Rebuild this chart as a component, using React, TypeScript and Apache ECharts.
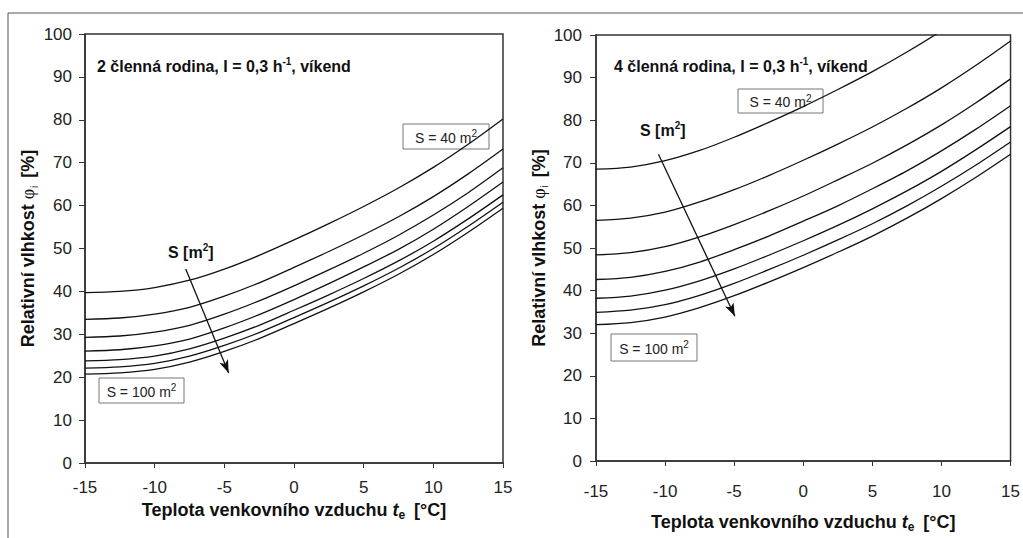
import React, { useEffect, useRef } from "react";
import * as echarts from "echarts";

// Outdoor air temperature t_e [°C]
const TE = [-15, -12.5, -10, -7.5, -5, -2.5, 0, 2.5, 5, 7.5, 10, 12.5, 15];
const X_TICKS = [-15, -10, -5, 0, 5, 10, 15];
const Y_TICKS = [0, 10, 20, 30, 40, 50, 60, 70, 80, 90, 100];

// Left chart: 2-member family (S = 40 ... 100 m2)
const L_S40 = [39.7, 40.0, 40.9, 42.6, 45.2, 48.4, 52.0, 55.8, 59.8, 64.1, 68.9, 74.3, 80.2];
const L_S50 = [33.5, 33.8, 34.7, 36.3, 38.9, 42.0, 45.6, 49.3, 53.2, 57.4, 62.1, 67.4, 73.2];
const L_S60 = [29.3, 29.6, 30.5, 32.1, 34.7, 37.8, 41.3, 45.0, 48.9, 53.1, 57.8, 63.0, 68.8];
const L_S70 = [26.1, 26.4, 27.3, 28.9, 31.5, 34.6, 38.1, 41.8, 45.7, 49.8, 54.5, 59.8, 65.5];
const L_S80 = [23.8, 24.1, 24.9, 26.6, 29.1, 32.1, 35.6, 39.2, 43.0, 47.1, 51.7, 56.9, 62.5];
const L_S90 = [22.1, 22.4, 23.2, 24.9, 27.4, 30.4, 33.9, 37.5, 41.3, 45.4, 50.0, 55.2, 60.8];
const L_S100 = [20.7, 21.0, 21.8, 23.5, 26.0, 29.0, 32.5, 36.1, 39.9, 44.0, 48.6, 53.8, 59.4];

// Right chart: 4-member family
const R_S40 = [68.5, 69.0, 70.5, 72.9, 76.0, 79.5, 83.2, 87.2, 91.4, 96.0, 101.0, 106.6, 112.5];
const R_S50 = [56.5, 57.0, 58.4, 60.8, 63.7, 67.0, 70.6, 74.4, 78.4, 82.8, 87.6, 92.9, 98.6];
const R_S60 = [48.4, 48.9, 50.3, 52.6, 55.5, 58.7, 62.2, 66.0, 69.9, 74.2, 78.9, 84.1, 89.7];
const R_S70 = [42.6, 43.1, 44.5, 46.7, 49.6, 52.8, 56.3, 59.9, 63.9, 68.1, 72.8, 77.9, 83.4];
const R_S80 = [38.2, 38.7, 40.1, 42.3, 45.1, 48.3, 51.7, 55.3, 59.2, 63.4, 68.0, 73.1, 78.5];
const R_S90 = [34.9, 35.4, 36.7, 38.9, 41.7, 44.9, 48.3, 51.9, 55.7, 59.9, 64.5, 69.5, 74.9];
const R_S100 = [32.0, 32.5, 33.8, 36.0, 38.8, 42.0, 45.4, 49.0, 52.8, 57.0, 61.6, 66.6, 72.0];

const LEFT_SERIES = [L_S40, L_S50, L_S60, L_S70, L_S80, L_S90, L_S100];
const RIGHT_SERIES = [R_S40, R_S50, R_S60, R_S70, R_S80, R_S90, R_S100];

// Arrows (data coordinates)
const L_ARROW = [[-7.77, 45.2], [-4.69, 21.0]];
const R_ARROW = [[-10.48, 72.0], [-4.95, 34.0]];

const FONT = "'Liberation Sans', Arial, sans-serif";
const AXIS_COLOR = "#333";

function makeAxes(idx: number, labelMarginX: number, nameGapX: number, nameGapY: number, labelMarginY: number) {
  const xAxis = {
    type: "value",
    gridIndex: idx,
    min: X_TICKS[0],
    max: X_TICKS[X_TICKS.length - 1],
    interval: X_TICKS[1] - X_TICKS[0],
    name: "{b|Teplota venkovního vzduchu }{it|t}{sub|e}{b| [°C]}",
    nameLocation: "middle",
    nameGap: nameGapX,
    nameTextStyle: {
      rich: {
        b: { fontFamily: FONT, fontWeight: "bold", fontSize: 18, color: "#111", lineHeight: 22 },
        it: { fontFamily: FONT, fontWeight: "bold", fontStyle: "italic", fontSize: 18, color: "#111", lineHeight: 22 },
        sub: { fontFamily: FONT, fontWeight: "bold", fontSize: 12, color: "#111", lineHeight: 14, verticalAlign: "bottom", padding: [0, 4, 0, 0] },
      },
    },
    axisLine: { show: true, onZero: false, lineStyle: { color: AXIS_COLOR, width: 1.5 } },
    axisTick: { show: true, inside: false, length: 5, lineStyle: { color: AXIS_COLOR, width: 1 } },
    axisLabel: { fontFamily: FONT, fontSize: 17, color: "#222", margin: labelMarginX },
    splitLine: { show: false },
  };
  const yAxis = {
    type: "value",
    gridIndex: idx,
    min: Y_TICKS[0],
    max: Y_TICKS[Y_TICKS.length - 1],
    interval: Y_TICKS[1] - Y_TICKS[0],
    name: "{b|Relativní vlhkost }{phi|φ}{sub|i}{b| [%]}",
    nameLocation: "middle",
    nameGap: nameGapY,
    nameTextStyle: {
      rich: {
        b: { fontFamily: FONT, fontWeight: "bold", fontSize: 18, color: "#111", lineHeight: 22 },
        phi: { fontFamily: "'Liberation Serif', serif", fontSize: 18, color: "#111", lineHeight: 22 },
        sub: { fontFamily: FONT, fontSize: 10, color: "#111", lineHeight: 12, verticalAlign: "bottom", padding: [0, 3, 0, 1] },
      },
    },
    axisLine: { show: true, onZero: false, lineStyle: { color: AXIS_COLOR, width: 1.5 } },
    axisTick: { show: true, inside: false, length: 6, lineStyle: { color: AXIS_COLOR, width: 1 } },
    axisLabel: { fontFamily: FONT, fontSize: 17, color: "#222", margin: labelMarginY },
    splitLine: { show: false },
  };
  return { xAxis, yAxis };
}

function boxLabel(x: number, y: number, w: number, h: number, value: string) {
  return {
    type: "group",
    x,
    y,
    children: [
      { type: "rect", shape: { x: 0, y: 0, width: w, height: h }, style: { fill: "#fff", stroke: "#777", lineWidth: 1 } },
      {
        type: "text",
        x: w / 2,
        y: h / 2 + 1,
        style: {
          text: `{t|S = ${value} m}{sup|2}`,
          align: "center",
          verticalAlign: "middle",
          rich: {
            t: { fontFamily: FONT, fontSize: 14, fill: "#222", lineHeight: 18 },
            sup: { fontFamily: FONT, fontSize: 10, fill: "#222", lineHeight: 11, verticalAlign: "top" },
          },
        },
      },
    ],
  };
}

function titleText(x: number, y: number, n: string) {
  return {
    type: "text",
    x,
    y,
    style: {
      text: `{b|${n} členná rodina, I = 0,3 h}{sup|-1}{b|, víkend}`,
      align: "left",
      verticalAlign: "middle",
      rich: {
        b: { fontFamily: FONT, fontWeight: "bold", fontSize: 16, fill: "#111", lineHeight: 20 },
        sup: { fontFamily: FONT, fontWeight: "bold", fontSize: 10, fill: "#111", lineHeight: 12, verticalAlign: "top" },
      },
    },
  };
}

function sLabel(x: number, y: number) {
  return {
    type: "text",
    x,
    y,
    style: {
      text: "{b|S [m}{sup|2}{b|]}",
      align: "left",
      verticalAlign: "middle",
      rich: {
        b: { fontFamily: FONT, fontWeight: "bold", fontSize: 16, fill: "#111", lineHeight: 20 },
        sup: { fontFamily: FONT, fontWeight: "bold", fontSize: 10, fill: "#111", lineHeight: 12, verticalAlign: "top" },
      },
    },
  };
}

export default function App() {
  const ref = useRef<HTMLDivElement>(null);
  useEffect(() => {
    if (!ref.current) return;
    const chart = echarts.init(ref.current, undefined, { renderer: "svg" });
    const a0 = makeAxes(0, 16, 26, 46, 13);
    const a1 = makeAxes(1, 22, 50, 45, 14);

    const lineSeries = (arrs: number[][], idx: number) =>
      arrs.map((arr, k) => ({
        type: "line",
        name: `S${idx}-${k}`,
        xAxisIndex: idx,
        yAxisIndex: idx,
        data: TE.map((t, i) => [t, arr[i]]),
        smooth: 0.3,
        showSymbol: false,
        clip: true,
        lineStyle: { color: "#111", width: 1.3 },
        silent: true,
      }));

    const arrowSeries = (pts: number[][], idx: number) => ({
      type: "line",
      xAxisIndex: idx,
      yAxisIndex: idx,
      data: [],
      markLine: {
        silent: true,
        animation: false,
        label: { show: false },
        lineStyle: { color: "#111", width: 1.3, type: "solid" },
        data: [
          [
            { coord: pts[0], symbol: "none" },
            { coord: pts[1], symbol: "arrow", symbolSize: [7, 13] },
          ],
        ],
      },
    });

    chart.setOption({
      animation: false,
      backgroundColor: "#fff",
      grid: [
        { left: 85, top: 34, width: 418, height: 429, show: true, borderColor: AXIS_COLOR, borderWidth: 1.5, backgroundColor: "transparent" },
        { left: 596, top: 35, width: 418, height: 428, show: true, borderColor: AXIS_COLOR, borderWidth: 1.5, backgroundColor: "transparent" },
      ],
      xAxis: [a0.xAxis, a1.xAxis],
      yAxis: [a0.yAxis, a1.yAxis],
      series: [
        ...lineSeries(LEFT_SERIES, 0),
        ...lineSeries(RIGHT_SERIES, 1),
        arrowSeries(L_ARROW, 0),
        arrowSeries(R_ARROW, 1),
      ],
      graphic: [
        { type: "line", shape: { x1: 8, y1: 13, x2: 1023, y2: 13 }, style: { stroke: "#555", lineWidth: 1 } },
        { type: "line", shape: { x1: 8, y1: 13, x2: 8, y2: 538 }, style: { stroke: "#555", lineWidth: 1 } },
        titleText(97, 66, "2"),
        titleText(614, 66, "4"),
        sLabel(168, 252),
        sLabel(640, 130),
        boxLabel(403, 124, 86, 25, "40"),
        boxLabel(99, 378, 85, 25, "100"),
        boxLabel(738, 89, 85, 24, "40"),
        boxLabel(611, 334, 86, 27, "100"),
      ],
    });
    return () => chart.dispose();
  }, []);
  return <div ref={ref} style={{ position: "fixed", left: 0, top: 0, width: 1023, height: 538 }} />;
}
